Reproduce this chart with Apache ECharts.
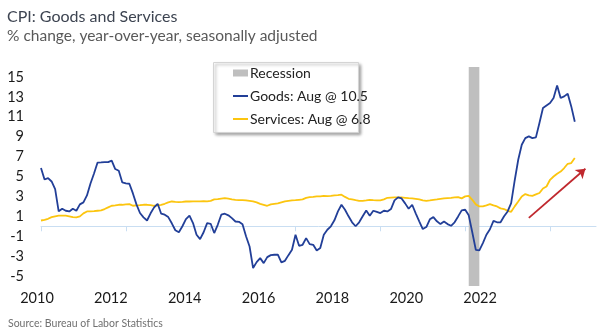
<!DOCTYPE html>
<html>
<head>
<meta charset="utf-8">
<script src="https://cdn.jsdelivr.net/npm/echarts@6/dist/echarts.min.js"></script>
<style>
html,body{margin:0;padding:0;background:#fff;}
#chart{width:600px;height:336px;}
</style>
</head>
<body>
<div id="chart"></div>
<script>
// Monthly data, Jan 2010 .. Aug 2022
const startYear = 2010;
const axisMonths = 158; // axis runs to Feb 2023
const goods = [
5.85,4.7,4.84,4.5,3.74,1.5,1.76,1.56,1.49,1.76,1.56,2.2,
2.4,3.1,4.3,5.3,6.4,6.42,6.45,6.45,6.6,5.75,5.58,4.4,
4.3,4.27,3.3,2.2,1.33,0.9,0.58,1.3,1.9,2.26,1.26,1.16,
0.92,0.3,-0.4,-0.6,0.0,0.72,1.06,0.32,-0.85,-1.29,-0.6,0.32,
0.25,-0.68,0.15,1.16,1.26,1.1,0.82,0.48,0.45,0.2,-1.0,-2.03,
-4.2,-3.6,-3.2,-3.7,-3.1,-2.9,-2.86,-2.86,-3.63,-3.47,-2.9,-2.36,
-0.85,-1.96,-1.86,-1.19,-1.79,-1.86,-2.43,-2.19,-0.85,-0.35,0.0,0.6,
1.5,2.16,1.66,1.0,0.4,0.0,0.4,1.0,1.59,1.06,1.56,1.45,
1.33,1.56,1.49,1.73,2.6,2.9,2.8,2.3,1.76,2.16,1.3,0.5,
-0.28,-0.08,0.7,0.92,0.5,0.22,0.48,0.22,0.05,0.4,0.99,1.6,
1.66,1.1,-0.6,-2.36,-2.43,-1.69,-0.85,-0.3,0.55,0.4,0.4,1.0,
1.49,2.33,4.6,6.68,8.19,8.86,9.03,8.86,8.93,10.37,11.88,12.14,
12.38,12.88,14.15,12.88,13.05,13.32,12.04,10.5
];
const services = [
0.58,0.65,0.75,0.92,1.0,1.06,1.06,1.06,1.0,0.92,0.89,1.0,
1.3,1.49,1.5,1.52,1.56,1.6,1.73,1.9,2.06,2.1,2.16,2.16,
2.2,2.23,2.06,2.1,2.12,2.16,2.16,2.12,2.06,2.1,2.15,2.26,
2.4,2.49,2.45,2.43,2.45,2.49,2.49,2.5,2.5,2.5,2.52,2.5,
2.55,2.7,2.73,2.78,2.83,2.78,2.7,2.65,2.62,2.62,2.6,2.55,
2.5,2.4,2.25,2.16,2.06,2.2,2.26,2.3,2.4,2.5,2.56,2.6,
2.62,2.66,2.7,2.85,2.93,2.95,3.0,3.0,3.06,3.03,3.06,3.1,
3.12,3.17,2.95,2.76,2.7,2.62,2.56,2.56,2.6,2.66,2.62,2.6,
2.6,2.7,2.86,2.88,2.9,2.9,2.9,2.86,2.82,2.8,2.76,2.7,
2.6,2.56,2.6,2.66,2.7,2.75,2.8,2.83,2.85,2.9,2.93,2.8,
3.0,3.06,2.66,2.2,1.99,1.99,2.1,2.23,2.1,1.99,1.8,1.73,
1.55,1.45,2.0,2.49,3.0,3.23,3.1,3.06,3.2,3.34,3.8,4.0,
4.67,5.0,5.28,5.5,5.85,6.28,6.35,6.85
];
const yTickLabels = [-5,-3,-1,1,3,5,7,9,11,13,15];
const xYearLabels = [2010,2012,2014,2016,2018,2020,2022];
const recession = ['2020-02','2020-05'];
const arrowFrom = ['2021-07', 0.85];
const arrowTo = ['2022-11', 5.78];
const goodsName = 'Goods: Aug @ 10.5';
const servicesName = 'Services: Aug @ 6.8';

const months = [];
for (let i = 0; i < axisMonths; i++) {
  const y = startYear + Math.floor(i / 12);
  const m = (i % 12) + 1;
  months.push(y + '-' + (m < 10 ? '0' + m : m));
}

const FONT = 'Lato';
const axisBlue = '#c9def2';
const lineIcon = 'path://M0,0H30V4H0Z';
const chart = echarts.init(document.getElementById('chart'), null, {renderer: 'canvas'});
chart.setOption({
  animation: false,
  backgroundColor: '#ffffff',
  textStyle: {fontFamily: FONT},
  title: [{
    text: 'CPI: Goods and Services',
    subtext: '% change, year-over-year, seasonally adjusted',
    left: 7, top: 8, padding: 0, itemGap: 3,
    textStyle: {fontFamily: FONT, fontSize: 16, fontWeight: 'normal', color: '#3d4451', lineHeight: 17},
    subtextStyle: {fontFamily: FONT, fontSize: 15.5, color: '#595959', lineHeight: 16}
  }, {
    text: 'Source: Bureau of Labor Statistics',
    left: 8, top: 318, padding: 0,
    textStyle: {fontFamily: FONT, fontSize: 10.5, fontWeight: 'normal', color: '#707070'}
  }],
  graphic: [{
    type: 'rect',
    left: 213, top: 62, z: 0,
    shape: {width: 145, height: 70},
    style: {fill: '#ffffff', stroke: '#d4d4d4', lineWidth: 1,
      shadowColor: 'rgba(0,0,0,0.35)', shadowBlur: 3, shadowOffsetX: 2, shadowOffsetY: 2}
  }],
  legend: {
    orient: 'vertical',
    left: 213, top: 62, z: 5,
    padding: [3, 4, 5, 20],
    itemWidth: 15, itemHeight: 7, itemGap: 7,
    symbolKeepAspect: true,
    textStyle: {fontFamily: FONT, fontSize: 14, color: '#222', lineHeight: 16, padding: [0, 0, 0, -3]},
    data: [
      {name: 'Recession', icon: 'rect'},
      {name: goodsName, icon: lineIcon},
      {name: servicesName, icon: lineIcon}
    ]
  },
  grid: {left: 41, right: 4, top: 67, bottom: 50, containLabel: false},
  xAxis: [{
    type: 'category',
    data: months,
    boundaryGap: false,
    axisLine: {show: true, lineStyle: {color: axisBlue, width: 1}},
    axisTick: {show: true, interval: 23, length: 5, lineStyle: {color: axisBlue}},
    axisLabel: {show: false},
    splitLine: {show: false}
  }, {
    type: 'value',
    position: 'bottom',
    min: 2010, max: 2025.03,
    axisLine: {show: false}, axisTick: {show: false}, splitLine: {show: false},
    axisLabel: {
      show: true, customValues: xYearLabels, margin: 5,
      padding: [0, 8, 0, 0],
      fontFamily: FONT, fontSize: 14.5, color: '#1a1a1a',
      formatter: v => String(v)
    }
  }],
  yAxis: {
    type: 'value', min: -6, max: 16,
    axisLine: {show: false}, axisTick: {show: false}, splitLine: {show: false},
    axisLabel: {customValues: yTickLabels, margin: 17, fontFamily: FONT, fontSize: 14.5, color: '#1a1a1a'}
  },
  series: [{
    name: 'Recession',
    type: 'line',
    data: [],
    itemStyle: {color: '#bfbfbf'},
    z: 1,
    markArea: {
      silent: true,
      itemStyle: {color: '#bfbfbf', opacity: 1},
      data: [[{xAxis: recession[0]}, {xAxis: recession[1]}]]
    }
  }, {
    name: goodsName,
    type: 'line',
    data: goods,
    symbol: 'none',
    lineStyle: {color: '#223f98', width: 1.8},
    itemStyle: {color: '#223f98'},
    z: 3
  }, {
    name: servicesName,
    type: 'line',
    data: services,
    symbol: 'none',
    lineStyle: {color: '#fcc50f', width: 1.8},
    itemStyle: {color: '#fcc50f'},
    z: 2,
    markLine: {
      silent: true,
      symbol: ['none', 'arrow'],
      symbolSize: 9,
      label: {show: false},
      lineStyle: {color: '#c0282e', width: 1.8, type: 'solid'},
      data: [[{coord: arrowFrom}, {coord: arrowTo}]]
    }
  }]
});
</script>
</body>
</html>
